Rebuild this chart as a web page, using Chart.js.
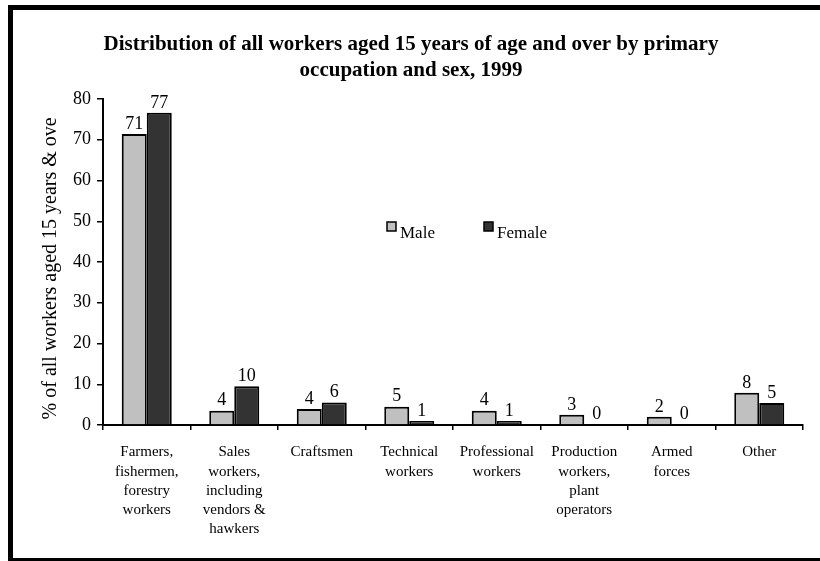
<!DOCTYPE html>
<html>
<head>
<meta charset="utf-8">
<script src="https://cdn.jsdelivr.net/npm/chart.js@4"></script>
<style>
  html, body { margin: 0; padding: 0; background: #fff; overflow: hidden; }
  #wrap { position: relative; width: 820px; height: 561px; }
  #frame {
    position: absolute; left: 8px; top: 5px; width: 900px; height: 548px;
    border-left: 5px solid #000; border-top: 5px solid #000; border-bottom: 5px solid #000;
  }
  canvas { position: absolute; left: 0; top: 0; }
</style>
</head>
<body>
<div id="wrap">
  <div id="frame"></div>
  <canvas id="chart" width="820" height="561"></canvas>
</div>
<script>
const categories = [
  ["Farmers,", "fishermen,", "forestry", "workers"],
  ["Sales", "workers,", "including", "vendors &", "hawkers"],
  ["Craftsmen"],
  ["Technical", "workers"],
  ["Professional", "workers"],
  ["Production", "workers,", "plant", "operators"],
  ["Armed", "forces"],
  ["Other"]
]
const maleValues = [71.4, 3.5, 3.9, 4.5, 3.5, 2.5, 2.0, 7.9]
const femaleValues = [76.6, 9.5, 5.5, 1.0, 1.0, 0.2, 0.2, 5.4]
const titleLines = ["Distribution of all workers aged 15 years of age and over by primary", "occupation and sex, 1999"]
const yTitle = "% of all workers aged 15 years & over"

const SERIF = "'Liberation Serif', 'Times New Roman', serif"

// value labels above bars
const barLabels = {
  id: "barLabels",
  afterDatasetsDraw(chart) {
    const ctx = chart.ctx
    ctx.save()
    ctx.font = "18px " + SERIF
    ctx.fillStyle = "#000"
    ctx.textAlign = "center"
    ctx.textBaseline = "bottom"
    chart.data.datasets.forEach((ds, i) => {
      chart.getDatasetMeta(i).data.forEach((bar, j) => {
        ctx.fillText(Math.round(ds.data[j]), bar.x, bar.y - 1)
      })
    })
    ctx.restore()
  }
}

// title, axis title and legend
const decorations = {
  id: "decorations",
  afterDraw(chart) {
    const ctx = chart.ctx
    ctx.save()
    ctx.fillStyle = "#000"
    ctx.textAlign = "center"
    ctx.textBaseline = "middle"
    ctx.font = "bold 21px " + SERIF
    ctx.fillText(titleLines[0], 411, 45)
    ctx.fillText(titleLines[1], 411, 71)

    // y axis title, clipped at the top like the original
    ctx.save()
    ctx.beginPath()
    ctx.rect(30, 118, 40, 320)
    ctx.clip()
    ctx.translate(51, 265)
    ctx.rotate(-Math.PI / 2)
    ctx.font = "20px " + SERIF
    ctx.fillText(yTitle, 0, 0)
    ctx.restore()

    // legend
    ctx.font = "17px " + SERIF
    ctx.textAlign = "left"
    ctx.textBaseline = "alphabetic"
    const legendX = [387, 484]
    chart.data.datasets.forEach((ds, i) => {
      const x = legendX[i]
      ctx.fillStyle = ds.backgroundColor
      ctx.fillRect(x, 222, 9, 9)
      ctx.strokeStyle = "#000"
      ctx.lineWidth = 1.5
      ctx.strokeRect(x, 222, 9, 9)
      ctx.fillStyle = "#000"
      ctx.fillText(ds.label, x + 13, 238)
    })
    ctx.restore()
  }
}

new Chart(document.getElementById("chart"), {
  type: "bar",
  data: {
    labels: categories,
    datasets: [
      {
        label: "Male",
        data: maleValues,
        backgroundColor: "#c0c0c0",
        borderColor: "#000",
        borderWidth: 2,
      },
      {
        label: "Female",
        data: femaleValues,
        backgroundColor: "#333333",
        borderColor: "#000",
        borderWidth: 2,
      },
    ],
  },
  options: {
    responsive: false,
    animation: false,
    layout: { padding: { top: 99, right: 17, left: 0, bottom: 0 } },
    datasets: { bar: { categoryPercentage: 2 / 3.5, barPercentage: 1 } },
    plugins: {
      legend: { display: false },
      tooltip: { enabled: false },
    },
    scales: {
      x: {
        grid: { display: true, drawOnChartArea: false, tickLength: 5, color: "#000", lineWidth: 1.5, offset: true },
        border: { color: "#000", width: 2 },
        ticks: { color: "#000", font: { family: SERIF, size: 15, lineHeight: 1.27 }, padding: 13, maxRotation: 0, autoSkip: false },
        afterFit: (scale) => { scale.height = 136 },
      },
      y: {
        min: 0,
        max: 80,
        grid: { display: true, drawOnChartArea: false, tickLength: 6, color: "#000", lineWidth: 1.5 },
        border: { color: "#000", width: 2 },
        ticks: { stepSize: 10, color: "#000", font: { family: SERIF, size: 18 }, padding: 6 },
        afterFit: (scale) => { scale.width = 103 },
      },
    },
  },
  plugins: [barLabels, decorations],
})
</script>
</body>
</html>
